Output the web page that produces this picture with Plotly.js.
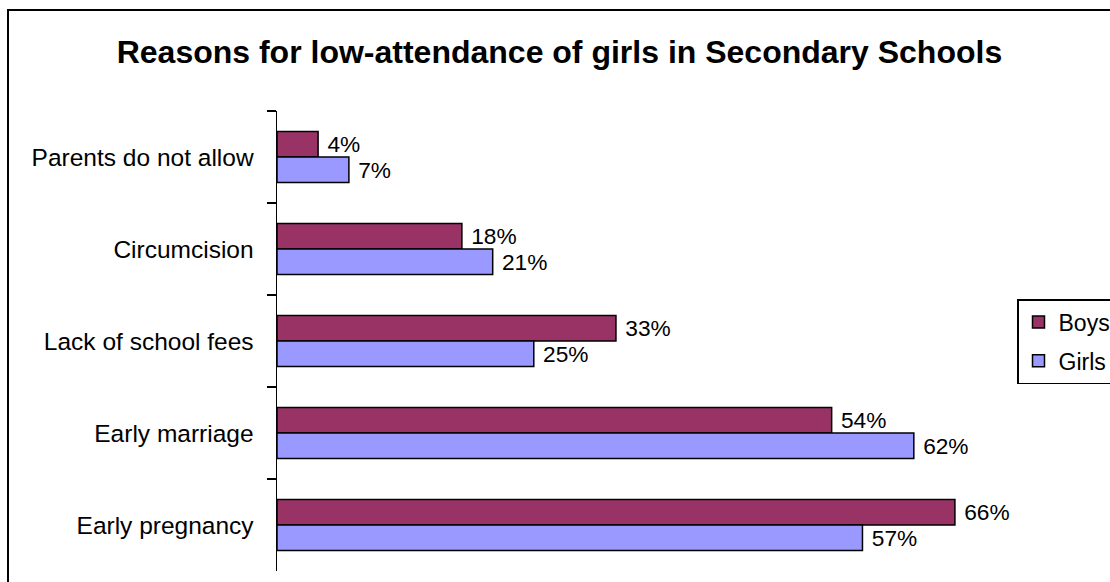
<!DOCTYPE html>
<html>
<head>
<meta charset="utf-8">
<script src="https://cdn.plot.ly/plotly-3.0.1.min.js"></script>
<style>
html,body{margin:0;padding:0;background:#fff;overflow:hidden;}
#wrap{position:relative;width:1110px;height:582px;}
#chart{width:1110px;height:582px;}
#frame{position:absolute;left:7px;top:9px;width:1200px;height:700px;border:2px solid #000;pointer-events:none;}
</style>
</head>
<body>
<div id="wrap"><div id="chart"></div><div id="frame"></div></div>
<script>
const categories = ["Parents do not allow", "Circumcision", "Lack of school fees", "Early marriage", "Early pregnancy"];
const boys = [4, 18, 33, 54, 66];
const girls = [7, 21, 25, 62, 57];
const seriesNames = ["Boys", "Girls"];
const FONT = "Liberation Sans, Arial, sans-serif";

function pct(v){ return v.map(x => "\u00a0" + x + "%"); }

const traces = [
  {type:"bar", orientation:"h", name:seriesNames[0], legendgroup:"b", y:categories, x:boys, text:pct(boys),
   textposition:"outside", cliponaxis:false, textfont:{family:FONT,size:24,color:"#000"},
   marker:{color:"#993366", line:{color:"#000", width:1.5}}},
  {type:"bar", orientation:"h", name:seriesNames[1], legendgroup:"g", y:categories, x:girls, text:pct(girls),
   textposition:"outside", cliponaxis:false, textfont:{family:FONT,size:24,color:"#000"},
   marker:{color:"#9999FF", line:{color:"#000", width:1.5}}}
];

const layout = {
  width:1110, height:582,
  margin:{l:277, r:114, t:111, b:11},
  paper_bgcolor:"#fff", plot_bgcolor:"#fff",
  font:{family:FONT, color:"#000"},
  title:{text:"<b>Reasons for low-attendance of girls in Secondary Schools</b>",
         font:{family:FONT,size:32,color:"#000"},
         x:0.504, xref:"container", xanchor:"center",
         y:1-52/582, yref:"container", yanchor:"middle"},
  barmode:"group", bargap:0.445, bargroupgap:0,
  xaxis:{range:[0,70], visible:false, showgrid:false, zeroline:false},
  yaxis:{type:"category", autorange:"reversed", showline:true, linecolor:"#000", linewidth:1.5,
         ticks:"outside", tickson:"boundaries", ticklen:9, tickcolor:"#000", tickwidth:1.5,
         ticklabelstandoff:17, showgrid:false, zeroline:false,
         tickfont:{family:FONT,size:24.5,color:"#000"}},
  legend:{xref:"container", yref:"container", x:1017/1110, y:1-299/582, xanchor:"left", yanchor:"top",
          bordercolor:"#000", borderwidth:1.5, bgcolor:"#fff",
          font:{family:FONT,size:23,color:"#000"}, traceorder:"grouped", tracegroupgap:6},
  showlegend:true
};

Plotly.newPlot("chart", traces, layout, {displayModeBar:false, staticPlot:true});
</script>
</body>
</html>
